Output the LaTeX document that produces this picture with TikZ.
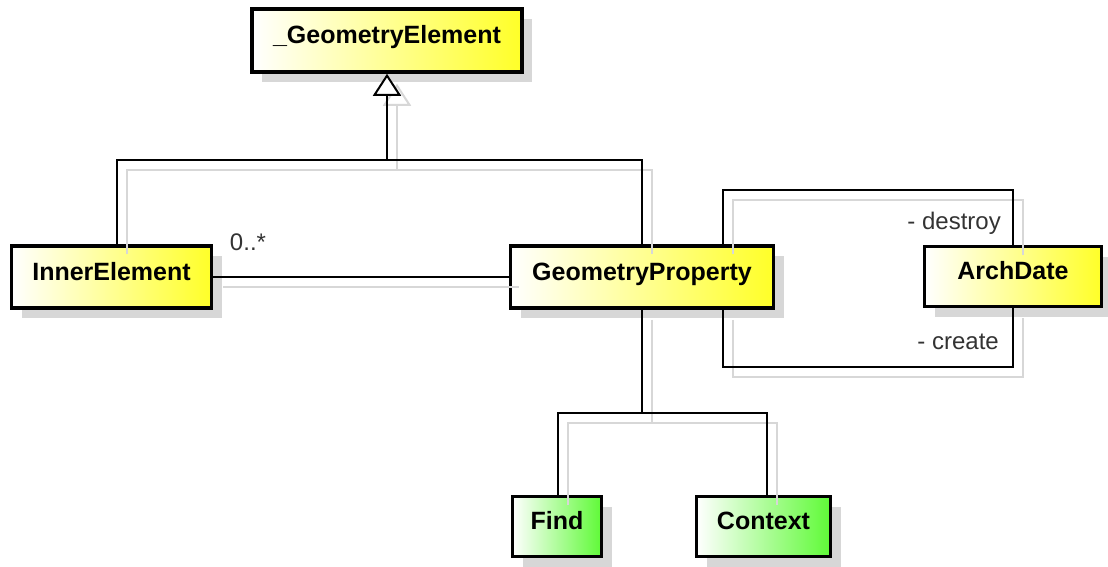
\documentclass[tikz,border=0pt]{standalone}
\usepackage{fontspec}
\setmainfont{Liberation Sans}
\usetikzlibrary{arrows.meta,shadows}

\definecolor{clsyellow}{RGB}{255,255,40}
\definecolor{cmpgreen}{RGB}{95,250,55}
\definecolor{shadegray}{RGB}{215,215,215}

\tikzset{
  cls/.style={draw=black, line width=3.5pt, left color=white, right color=clsyellow,
    minimum height=61pt, inner sep=0pt, text height=18pt, text depth=12pt,
    font=\fontsize{25}{30}\selectfont\bfseries,
    drop shadow={shadow xshift=10pt, shadow yshift=-10pt, fill=shadegray, opacity=1}},
  cmp/.style={cls, right color=cmpgreen},
  link/.style={line width=2pt, draw=black},
  ghost/.style={line width=2pt, draw=shadegray, transform canvas={xshift=10pt, yshift=-10pt}},
  lbl/.style={font=\fontsize{24}{28}\selectfont, text=black!80, inner sep=0pt}
}

\begin{document}
\begin{tikzpicture}[x=1pt, y=-1pt]
\useasboundingbox (0,0) rectangle (1108,566);

% classes
\node[cls, minimum width=270pt, minimum height=63pt] (geomelem) at (387,40.5) {\_GeometryElement};
\node[cls, minimum width=200pt, minimum height=62pt] (inner) at (111.5,277) {InnerElement};
\node[cls, minimum width=263pt, minimum height=62pt] (geomprop) at (642,277) {GeometryProperty};
\node[cls, minimum width=177pt, minimum height=60pt] (archdate) at (1013,276.5) {ArchDate};
\node[cmp, minimum width=89pt, minimum height=60pt] (find) at (557,526.5) {Find};
\node[cmp, minimum width=134pt, minimum height=60pt] (context) at (763.5,526.5) {Context};

% bends
\coordinate (gbar) at (387,160);
\coordinate (dtop) at (723,190);
\coordinate (dbot) at (723,367);
\coordinate (split) at (642,413);

% connectors, shadow first
\foreach \sty in {ghost,link} {
\draw[\sty] ([xshift=5.5pt]inner.north) |- (geomprop.north |- gbar) -- (geomprop.north);
\draw[\sty, -{Triangle[length=22pt, width=28pt, fill=white]}] (gbar) -- (geomelem.south);
\draw[\sty] (inner.east) -- (geomprop.west);
\draw[\sty] (geomprop.north -| dtop) |- (archdate.north |- dtop) -- (archdate.north);
\draw[\sty] (geomprop.south -| dbot) |- (archdate.south |- dbot) -- (archdate.south);
\draw[\sty] (geomprop.south) -- (split);
\draw[\sty] ([xshift=1pt]find.north) |- (split) -| ([xshift=3.5pt]context.north);
}

% role names
\node[lbl] (mult) at (248,242) {0..*};
\node[lbl, anchor=east] (destroy) at (1001,223) {- destroy};
\node[lbl, anchor=east] (create) at (999,342) {- create};
\end{tikzpicture}
\end{document}
